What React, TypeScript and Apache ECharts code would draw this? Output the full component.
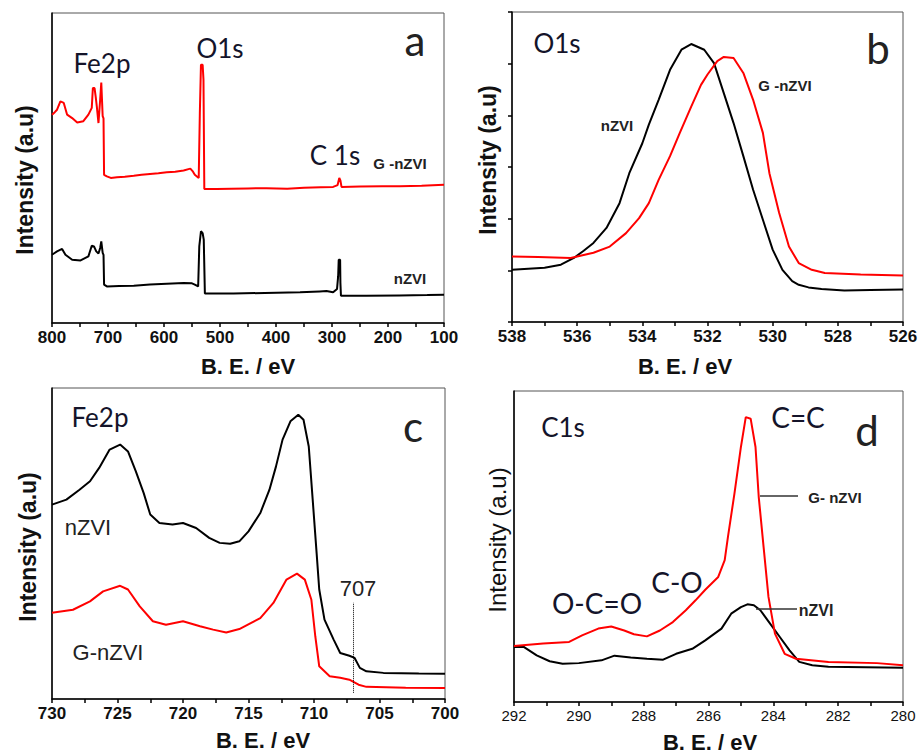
import React, { useEffect, useRef } from "react";
import * as echarts from "echarts";

// ---------- Panel a: survey spectra (B.E. eV, intensity a.u.) ----------
const surveyGnZVI: [number, number][] = [
  [800, 6.72], [795, 6.8], [791, 6.88], [785, 7.15], [779, 7.1], [773, 6.72], [764, 6.61], [755, 6.47],
  [744, 6.51], [735, 6.72], [729, 6.94], [727, 7.58], [724, 7.58], [722, 7.3], [720, 6.99], [717, 6.45],
  [714, 7.2], [712, 7.76], [711, 7.76], [709.5, 6.67], [708, 6.6], [707, 4.78], [702, 4.73], [695, 4.68],
  [684, 4.7], [670, 4.72], [654, 4.75], [640, 4.78], [625, 4.81], [610, 4.83], [595, 4.86], [580, 4.88],
  [565, 4.92], [553, 4.98], [549, 4.9], [545, 4.78], [538, 4.68], [536, 6.77], [534, 8.33], [531, 8.33],
  [529.5, 7.85], [528.5, 7.85], [528, 4.32], [506, 4.32], [480, 4.33], [450, 4.34], [417, 4.35], [380, 4.33],
  [350, 4.36], [320, 4.38], [298, 4.39], [290, 4.45], [287, 4.68], [285, 4.6], [283, 4.39], [250, 4.4],
  [210, 4.41], [179, 4.41], [140, 4.43], [100, 4.46]
];
const surveyNZVI: [number, number][] = [
  [800, 2.2], [796, 2.25], [791, 2.31], [782, 2.39], [776, 2.2], [764, 2.04], [749, 2.02], [735, 2.15],
  [729, 2.49], [725, 2.47], [721, 2.31], [717, 2.24], [714, 2.42], [712, 2.63], [711, 2.63], [709.5, 2.26],
  [708, 2.2], [707, 1.24], [702, 1.18], [680, 1.19], [654, 1.2], [625, 1.24], [595, 1.27], [565, 1.29],
  [550, 1.28], [545, 1.24], [539, 1.18], [537, 2.47], [534, 2.96], [531, 2.9], [529, 2.69], [528, 2.69],
  [527, 0.95], [500, 0.95], [476, 0.95], [420, 0.97], [357, 0.99], [322, 1.02], [310, 1.03], [298, 0.99],
  [291, 1.1], [289, 1.51], [288, 2.04], [285.5, 2.04], [285, 1.3], [284, 0.88], [239, 0.88], [180, 0.89],
  [130, 0.9], [100, 0.91]
];

// ---------- Panel b: O1s ----------
const o1sNZVI: [number, number][] = [
  [538, 1.01], [537.5, 1.03], [537, 1.05], [536.5, 1.11], [536.1, 1.24], [535.8, 1.38], [535.5, 1.53],
  [535.1, 1.82], [534.7, 2.3], [534.4, 2.88], [534, 3.46], [533.8, 3.82], [533.5, 4.3], [533.15, 4.88],
  [532.8, 5.27], [532.5, 5.38], [532.1, 5.27], [531.8, 5.01], [531.5, 4.43], [531.2, 3.85], [530.9, 3.21],
  [530.6, 2.56], [530.3, 1.98], [530, 1.4], [529.7, 1.01], [529.4, 0.79], [529.2, 0.72], [528.9, 0.67],
  [528.5, 0.64], [527.8, 0.61], [527, 0.62], [526, 0.63]
];
const o1sGnZVI: [number, number][] = [
  [538, 1.27], [537.2, 1.26], [536.2, 1.24], [535.5, 1.34], [535, 1.46], [534.5, 1.72], [534.1, 2.01],
  [533.8, 2.3], [533.5, 2.75], [533.15, 3.21], [532.85, 3.66], [532.5, 4.17], [532.2, 4.59], [532, 4.79],
  [531.7, 5.05], [531.5, 5.13], [531.2, 5.11], [530.9, 4.82], [530.6, 4.3], [530.3, 3.66], [530.1, 2.88],
  [529.8, 2.11], [529.5, 1.46], [529.2, 1.14], [528.8, 1.01], [528.4, 0.95], [527.3, 0.92], [526, 0.9]
];

// ---------- Panel c: Fe2p ----------
const fe2pNZVI: [number, number][] = [
  [730, 6.25], [728.9, 6.41], [727.9, 6.73], [727.1, 7.0], [726.4, 7.43], [725.6, 8.02], [724.8, 8.18],
  [724.2, 7.96], [723.6, 7.32], [723, 6.62], [722.5, 5.93], [721.8, 5.66], [720.8, 5.61], [720, 5.66],
  [719, 5.5], [718, 5.18], [717.2, 5.02], [716.4, 4.99], [715.7, 5.07], [715, 5.39], [714.1, 5.98],
  [713.4, 6.73], [712.9, 7.48], [712.4, 8.34], [711.8, 8.93], [711.2, 9.14], [710.8, 8.98], [710.4, 8.12],
  [710.1, 6.41], [709.8, 4.69], [709.6, 3.52], [709.2, 2.55], [708.5, 1.91], [708, 1.48], [707.3, 1.39],
  [706.9, 1.32], [706.5, 1.0], [706, 0.89], [704.7, 0.84], [702, 0.82], [700, 0.81]
];
const fe2pGnZVI: [number, number][] = [
  [730, 2.77], [728.4, 2.87], [727.1, 3.14], [726.1, 3.46], [724.8, 3.64], [724.2, 3.52], [723.3, 2.98],
  [722.3, 2.5], [721.3, 2.39], [720, 2.5], [718.7, 2.34], [717.7, 2.23], [716.7, 2.14], [715.7, 2.25],
  [714.1, 2.6], [713.1, 3.09], [712.1, 3.84], [711.3, 4.03], [710.7, 3.84], [710.2, 3.19], [709.9, 2.01],
  [709.6, 1.05], [708.8, 0.73], [708, 0.68], [707.3, 0.62], [706.6, 0.46], [706, 0.39], [703, 0.36], [700, 0.35]
];
const fe2pMarker: number[] = [707, 0.2, 3.1];

// ---------- Panel d: C1s ----------
const c1sGnZVI: [number, number][] = [
  [292, 1.8], [291.1, 1.88], [290.3, 1.93], [289.9, 2.14], [289.4, 2.36], [289, 2.43], [288.6, 2.3],
  [288.3, 2.18], [287.9, 2.11], [287.5, 2.3], [287.1, 2.57], [286.7, 2.95], [286.4, 3.27], [286.1, 3.61],
  [285.7, 4.02], [285.5, 4.56], [285.4, 5.31], [285.2, 6.7], [285, 8.2], [284.85, 9.16], [284.7, 9.11],
  [284.55, 8.2], [284.45, 6.59], [284.3, 4.98], [284.15, 3.38], [283.95, 2.2], [283.65, 1.55],
  [283.3, 1.39], [282.3, 1.29], [280.8, 1.25], [280, 1.18]
];
const c1sNZVI: [number, number][] = [
  [292, 1.77], [291.7, 1.77], [291.3, 1.5], [290.9, 1.31], [290.5, 1.23], [290, 1.25], [289.3, 1.34],
  [288.9, 1.49], [288.4, 1.43], [287.9, 1.39], [287.4, 1.36], [287, 1.55], [286.5, 1.71], [286.1, 1.98],
  [285.6, 2.36], [285.3, 2.84], [285, 3.05], [284.8, 3.14], [284.6, 3.11], [284.4, 2.95], [284.1, 2.52],
  [283.8, 2.09], [283.5, 1.66], [283.2, 1.29], [282.8, 1.18], [282.3, 1.13], [280, 1.1]
];

const RED = "#ff0000";
const BLACK = "#000000";
const LABEL_FONT = "Lato, 'Open Sans', sans-serif";
const ARIAL = "'Liberation Sans', Arial, sans-serif";
const TXT = "#14142a";

function xAxisCfg(gi: number, min: number, max: number, interval: number, every: number, bold: boolean, fs: number) {
  return {
    type: "value",
    gridIndex: gi,
    min,
    max,
    interval,
    inverse: true,
    axisLine: { show: true, onZero: false, lineStyle: { color: "#000", width: 1.5 } },
    axisTick: { show: true, inside: false, length: 4, lineStyle: { color: "#000", width: 1.5 } },
    splitLine: { show: false },
    axisLabel: {
      show: true,
      margin: 6,
      color: "#111",
      fontFamily: ARIAL,
      fontWeight: bold ? "bold" : "normal",
      fontSize: fs,
      showMinLabel: true,
      showMaxLabel: true,
      formatter: (v: number) => {
        const r = v / every;
        return Math.abs(r - Math.round(r)) < 1e-6 ? String(v) : "";
      },
    },
  };
}

function yAxisCfg(gi: number, max: number, ticks: boolean) {
  return {
    type: "value",
    gridIndex: gi,
    min: 0,
    max,
    interval: 1,
    axisLine: { show: true, onZero: false, lineStyle: { color: "#000", width: 1.5 } },
    axisTick: { show: ticks, length: 4, lineStyle: { color: "#000", width: 1.5 } },
    axisLabel: { show: false },
    splitLine: { show: false },
  };
}

function lineSeries(data: [number, number][], idx: number, color: string, extra: any = {}) {
  return {
    type: "line",
    xAxisIndex: idx,
    yAxisIndex: idx,
    data,
    showSymbol: false,
    symbol: "none",
    lineStyle: { color, width: 2 },
    itemStyle: { color },
    ...extra,
  };
}

function txt(x: number, y: number, text: string, fs: number, opts: any = {}) {
  return {
    type: "text",
    x,
    y,
    rotation: opts.rotation || 0,
    style: {
      text,
      fontSize: fs,
      fontFamily: opts.font || LABEL_FONT,
      fontWeight: opts.bold ? "bold" : "normal",
      fill: opts.color || TXT,
      textAlign: "center",
      textVerticalAlign: "middle",
    },
    z: 100,
  };
}

export default function App() {
  const ref = useRef<HTMLDivElement>(null);
  useEffect(() => {
    if (!ref.current) return;
    const chart = echarts.init(ref.current, null, { renderer: "svg" });
    const gridBase = { show: true, borderColor: "#555", borderWidth: 1, backgroundColor: "#fff" };
    const option: any = {
      animation: false,
      backgroundColor: "#ffffff",
      grid: [
        { ...gridBase, left: 52, top: 13, width: 392, height: 310 },
        { ...gridBase, left: 512, top: 12, width: 391, height: 310 },
        { ...gridBase, left: 52, top: 388, width: 393, height: 311 },
        { ...gridBase, left: 514, top: 391, width: 389, height: 311 },
      ],
      xAxis: [
        xAxisCfg(0, 100, 800, 50, 100, true, 17),
        xAxisCfg(1, 526, 538, 1, 2, true, 17),
        xAxisCfg(2, 700, 730, 2.5, 5, true, 17),
        xAxisCfg(3, 280, 292, 1, 2, false, 15),
      ],
      yAxis: [yAxisCfg(0, 10, false), yAxisCfg(1, 6, true), yAxisCfg(2, 10, false), yAxisCfg(3, 10, false)],
      series: [
        lineSeries(surveyGnZVI, 0, RED),
        lineSeries(surveyNZVI, 0, BLACK),
        lineSeries(o1sNZVI, 1, BLACK),
        lineSeries(o1sGnZVI, 1, RED),
        lineSeries(fe2pNZVI, 2, BLACK),
        lineSeries(fe2pGnZVI, 2, RED, {
          markLine: {
            silent: true,
            symbol: "none",
            label: { show: false },
            lineStyle: { color: "#000", width: 1, type: "dotted" },
            data: [[{ coord: [fe2pMarker[0], fe2pMarker[1]] }, { coord: [fe2pMarker[0], fe2pMarker[2]] }]],
          },
        }),
        lineSeries(c1sNZVI, 3, BLACK),
        lineSeries(c1sGnZVI, 3, RED),
      ],
      graphic: [
        // axis titles
        txt(248, 366, "B. E. / eV", 22, { font: ARIAL, bold: true, color: "#111" }),
        txt(685, 366, "B. E. / eV", 22, { font: ARIAL, bold: true, color: "#111" }),
        txt(263, 740, "B. E. / eV", 22, { font: ARIAL, bold: true, color: "#111" }),
        txt(710, 742, "B. E. / eV", 22, { font: ARIAL, bold: true, color: "#111" }),
        txt(25, 180, "Intensity (a.u)", 23, { font: ARIAL, bold: true, color: "#111", rotation: Math.PI / 2 }),
        txt(488, 160, "Intensity (a.u)", 23, { font: ARIAL, bold: true, color: "#111", rotation: Math.PI / 2 }),
        txt(28, 547, "Intensity (a.u)", 23, { font: ARIAL, bold: true, color: "#111", rotation: Math.PI / 2 }),
        txt(497, 540, "Intensity (a.u)", 24, { font: ARIAL, color: "#111", rotation: Math.PI / 2 }),
        // panel a
        txt(102, 63, "Fe2p", 26),
        txt(220, 48, "O1s", 26),
        txt(335, 155, "C 1s", 26),
        txt(400, 163, "G -nZVI", 15, { font: ARIAL, bold: true, color: "#222" }),
        txt(410, 278, "nZVI", 15, { font: ARIAL, bold: true, color: "#222" }),
        txt(415, 40, "a", 42, { color: "#222" }),
        // panel b
        txt(557, 43, "O1s", 26),
        txt(878, 48, "b", 42, { color: "#222" }),
        txt(617, 125, "nZVI", 15, { font: ARIAL, bold: true, color: "#222" }),
        txt(785, 85, "G -nZVI", 15, { font: ARIAL, bold: true, color: "#222" }),
        // panel c
        txt(100, 417, "Fe2p", 26),
        txt(413, 426, "c", 42, { color: "#222" }),
        txt(88, 527, "nZVI", 22, { font: ARIAL, color: "#222" }),
        txt(108, 652, "G-nZVI", 22, { font: ARIAL, color: "#222" }),
        txt(358, 588, "707", 22, { font: ARIAL, color: "#222" }),
        // panel d
        txt(563, 427, "C1s", 26),
        txt(798, 417, "C=C", 28),
        txt(867, 430, "d", 42, { color: "#222" }),
        txt(597, 603, "O-C=O", 28),
        txt(677, 582, "C-O", 28),
        txt(835, 497, "G- nZVI", 15, { font: ARIAL, bold: true, color: "#222" }),
        txt(816, 610, "nZVI", 16, { font: ARIAL, bold: true, color: "#222" }),
        { type: "line", shape: { x1: 760, y1: 496, x2: 798, y2: 496 }, style: { stroke: "#333", lineWidth: 1.5 }, z: 100 },
        { type: "line", shape: { x1: 756, y1: 609, x2: 797, y2: 609 }, style: { stroke: "#333", lineWidth: 1.5 }, z: 100 },
      ],
    };
    chart.setOption(option);
    return () => chart.dispose();
  }, []);
  return (
    <div
      ref={ref}
      style={{ position: "absolute", left: 0, top: 0, width: 921, height: 755, background: "#fff" }}
    />
  );
}
